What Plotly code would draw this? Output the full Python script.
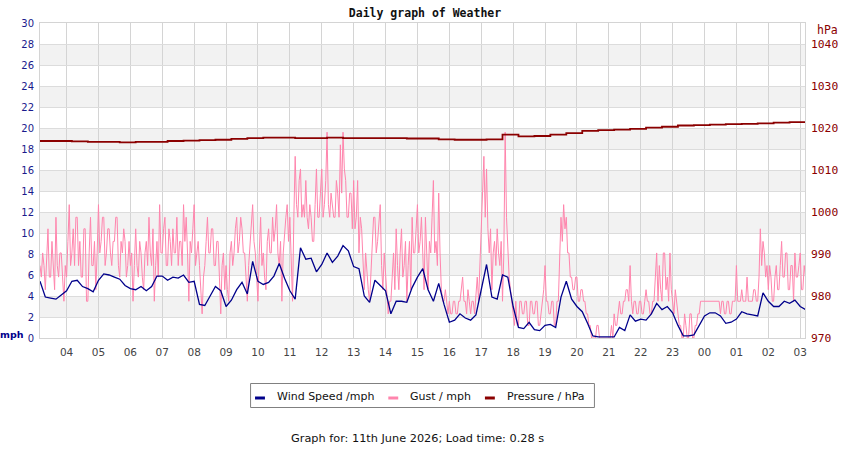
import pandas as pd
import plotly.graph_objects as go

# ---------------- data ----------------
start = "2026-06-10 03:10"

# wind speed (mph), 10-minute readings from 03:10
wind_speed = [
    5.4, 3.9, 3.8, 3.7, 4.1,                 # 03
    4.5, 5.4, 5.5, 4.9, 4.7, 4.4,            # 04
    5.5, 6.1, 6.0, 5.8, 5.6, 5.0,            # 05
    4.7, 4.6, 4.9, 4.5, 4.9, 5.9,            # 06
    5.9, 5.5, 5.8, 5.7, 6.0, 5.3,            # 07
    5.4, 3.2, 3.1, 4.0, 4.9, 4.5,            # 08
    3.0, 3.6, 4.6, 5.3, 4.2, 7.3,            # 09
    5.4, 5.1, 5.3, 5.9, 7.1, 5.7,            # 10
    4.5, 3.7, 8.6, 7.5, 7.6, 6.3,            # 11
    7.0, 8.1, 7.2, 7.8, 8.8, 8.3,            # 12
    6.8, 6.6, 4.0, 3.4, 5.5, 5.0,            # 13
    4.5, 2.3, 3.5, 3.5, 3.4, 4.8,            # 14
    5.8, 6.6, 4.6, 3.5, 5.2, 3.2,            # 15
    1.5, 1.7, 2.3, 1.9, 1.7, 2.2,            # 16
    4.5, 7.0, 3.9, 3.7, 6.0, 5.8,            # 17
    3.0, 1.0, 0.9, 1.5, 0.8, 0.7,            # 18
    1.2, 1.3, 1.0, 3.9, 5.4, 3.7,            # 19
    3.0, 2.5, 1.4, 0.2, 0.1, 0.1,            # 20
    0.1, 0.1, 1.0, 0.7, 2.2, 1.6,            # 21
    1.8, 1.7, 2.3, 3.3, 2.7, 3.0,            # 22
    2.4, 1.2, 0.2, 0.2, 0.3, 1.2,            # 23
    2.1, 2.4, 2.4, 2.1, 1.4, 1.5,            # 00
    1.8, 2.5, 2.3, 2.2, 2.1, 4.3,            # 01
    3.5, 3.0, 3.0, 3.5, 3.3, 3.6,            # 02
    3.0, 2.7,                                # 03
]

# gust (mph), 2.5-minute readings from 03:10
gust = [
    # 03 (03:10 - 03:57:30)
    6.9, 5.8, 8.1, 6.9, 4.6, 8.1, 10.4, 5.8, 5.8, 9.2,
    6.9, 4.6, 11.5, 6.9, 5.8, 8.1, 8.1, 5.8, 3.5, 6.9,
    # 04
    5.8, 9.2, 12.7, 6.9, 8.1, 10.4, 6.9, 11.5, 11.5, 6.9, 9.2, 5.8,
    5.8, 10.4, 10.4, 3.5, 3.5, 8.1, 11.5, 6.9, 6.9, 9.2, 4.6, 8.1,
    # 05
    12.7, 8.1, 9.2, 11.5, 11.5, 6.9, 8.1, 10.4, 10.4, 8.1, 6.9, 9.2,
    9.2, 11.5, 11.5, 6.9, 5.8, 9.2, 8.1, 10.4, 9.2, 5.8, 6.9, 9.2,
    # 06
    6.9, 8.1, 3.5, 6.9, 10.4, 6.9, 5.8, 9.2, 8.1, 5.8, 4.6, 8.1,
    9.2, 6.9, 11.5, 8.1, 6.9, 10.4, 3.5, 6.9, 9.2, 5.8, 12.7, 8.1,
    # 07
    8.1, 10.4, 11.5, 6.9, 6.9, 10.4, 9.2, 6.9, 10.4, 8.1, 8.1, 11.5,
    6.9, 9.2, 9.2, 6.9, 12.7, 9.2, 11.5, 8.1, 3.5, 9.2, 8.1, 10.4,
    # 08
    12.7, 6.9, 8.1, 9.2, 6.9, 4.6, 2.3, 5.8, 6.9, 9.2, 11.5, 8.1,
    8.1, 10.4, 10.4, 6.9, 6.9, 9.2, 9.2, 5.8, 2.3, 6.9, 8.1, 4.6,
    # 09
    6.9, 4.6, 3.5, 8.1, 9.2, 6.9, 8.1, 10.4, 11.5, 8.1, 9.2, 11.5,
    10.4, 8.1, 8.1, 5.8, 3.5, 6.9, 9.2, 11.5, 12.7, 9.2, 8.1, 5.8,
    # 10
    3.5, 8.1, 11.5, 6.9, 8.1, 5.8, 4.6, 9.2, 10.4, 8.1, 8.1, 11.5,
    9.2, 10.4, 12.7, 8.1, 6.9, 9.2, 3.5, 8.1, 10.4, 11.5, 12.7, 9.2,
    # 11
    11.5, 6.9, 3.5, 11.5, 17.3, 12.7, 11.5, 15.0, 16.1, 11.5, 12.7, 11.5,
    15.0, 11.5, 10.4, 12.7, 11.5, 9.2, 9.2, 12.7, 16.1, 11.5, 11.5, 13.8,
    # 12
    16.1, 11.5, 12.7, 15.0, 19.6, 12.7, 11.5, 13.8, 12.7, 11.5, 11.5, 15.0,
    13.8, 11.5, 18.4, 13.8, 19.6, 16.1, 15.0, 11.5, 11.5, 13.8, 13.8, 10.4,
    # 13
    15.0, 10.4, 11.5, 15.0, 8.1, 11.5, 10.4, 6.9, 4.6, 8.1, 5.8, 4.6,
    3.5, 5.8, 8.1, 11.5, 11.5, 8.1, 9.2, 11.5, 12.7, 6.9, 4.6, 8.1,
    # 14
    5.8, 4.6, 2.3, 3.5, 3.5, 5.8, 8.1, 4.6, 10.4, 6.9, 4.6, 8.1,
    10.4, 5.8, 6.9, 9.2, 3.5, 6.9, 9.2, 4.6, 11.5, 8.1, 8.1, 10.4,
    # 15
    12.7, 8.1, 9.2, 11.5, 6.9, 4.6, 11.5, 8.1, 4.6, 9.2, 8.1, 11.5,
    15.0, 8.1, 9.2, 6.9, 13.8, 8.1, 4.6, 3.5, 3.5, 4.6, 3.5, 2.3,
    # 16
    3.5, 2.3, 2.3, 3.5, 3.5, 2.3, 2.3, 3.5, 3.5, 4.6, 5.8, 3.5,
    3.5, 2.3, 4.6, 3.5, 2.3, 3.5, 3.5, 2.3, 4.6, 5.8, 3.5, 6.9,
    # 17
    9.2, 13.8, 17.3, 11.5, 16.1, 10.4, 8.1, 10.4, 4.6, 8.1, 9.2, 6.9,
    10.4, 8.1, 6.9, 9.2, 3.5, 8.1, 19.6, 11.5, 8.1, 5.8, 4.6, 3.5,
    # 18
    2.3, 1.2, 3.5, 1.2, 1.2, 3.5, 3.5, 2.3, 2.3, 3.5, 3.5, 1.2,
    1.2, 3.5, 3.5, 2.3, 2.3, 3.5, 3.5, 1.2, 1.2, 2.3, 3.5, 4.6,
    # 19
    6.9, 3.5, 3.5, 2.3, 2.3, 3.5, 3.5, 1.2, 1.2, 3.5, 3.5, 8.1,
    11.5, 9.2, 12.7, 10.4, 11.5, 8.1, 8.1, 5.8, 5.8, 4.6, 4.6, 5.8,
    # 20
    5.8, 3.5, 3.5, 4.6, 4.6, 3.5, 3.5, 2.3, 2.3, 1.2, 1.2, 0.0,
    0.0, 0.0, 0.0, 1.2, 1.2, 0.0, 0.0, 0.0, 0.0, 0.0, 0.0, 0.0,
    # 21
    0.0, 0.0, 1.2, 0.0, 2.3, 1.2, 1.2, 2.3, 3.5, 2.3, 2.3, 3.5,
    3.5, 4.6, 4.6, 3.5, 6.9, 3.5, 2.3, 3.5, 3.5, 2.3, 2.3, 3.5,
    # 22
    3.5, 2.3, 2.3, 3.5, 4.6, 3.5, 3.5, 2.3, 2.3, 3.5, 3.5, 5.8,
    8.1, 3.5, 6.9, 4.6, 3.5, 8.1, 8.1, 4.6, 5.8, 3.5, 8.1, 4.6,
    # 23
    3.5, 2.3, 4.6, 3.5, 2.3, 1.2, 1.2, 0.0, 0.0, 2.3, 1.2, 0.0,
    0.0, 2.3, 2.3, 0.0, 0.0, 1.2, 1.2, 2.3, 2.3, 3.5, 3.5, 3.5,
    # 00
    3.5, 3.5, 3.5, 3.5, 3.5, 3.5, 3.5, 3.5, 3.5, 3.5, 3.5, 3.5,
    2.3, 3.5, 3.5, 2.3, 2.3, 3.5, 3.5, 2.3, 2.3, 3.5, 3.5, 3.5,
    # 01
    6.9, 3.5, 3.5, 3.5, 4.6, 3.5, 3.5, 3.5, 5.8, 3.5, 3.5, 3.5,
    3.5, 4.6, 4.6, 3.5, 3.5, 5.8, 10.4, 6.9, 9.2, 8.1, 5.8, 6.9,
    # 02
    4.6, 6.9, 5.8, 3.5, 3.5, 5.8, 6.9, 4.6, 4.6, 6.9, 9.2, 5.8,
    5.8, 8.1, 8.1, 4.6, 4.6, 6.9, 6.9, 3.5, 8.1, 5.8, 5.8, 6.9,
    # 03
    8.1, 4.6, 4.6, 6.9, 5.8,
]

# pressure (hPa), 30-minute readings from 03:10
pressure = [
    1016.9, 1016.9, 1016.8, 1016.7, 1016.7, 1016.6, 1016.7, 1016.7,
    1016.9, 1017.0, 1017.1, 1017.2, 1017.4, 1017.6, 1017.7, 1017.7,
    1017.6, 1017.6, 1017.7, 1017.6, 1017.6, 1017.6, 1017.6, 1017.5,
    1017.5, 1017.3, 1017.2, 1017.2, 1017.3, 1018.4, 1018.0, 1018.1,
    1018.4, 1018.8, 1019.3, 1019.5, 1019.6, 1019.8, 1020.1, 1020.3,
    1020.6, 1020.7, 1020.8, 1020.9, 1021.0, 1021.1, 1021.3, 1021.4,
    1021.5,
]

series_names = ["Wind Speed /mph", "Gust / mph", "Pressure / hPa"]
mph_ticks = list(range(0, 31, 2))
hpa_ticks = [970, 980, 990, 1000, 1010, 1020, 1030, 1040]

t_wind = pd.date_range(start, periods=len(wind_speed), freq="10min")
t_gust = pd.date_range(start, periods=len(gust), freq="150s")
t_pres = pd.date_range(start, periods=len(pressure), freq="30min")

# ---------------- figure ----------------
NAVY = "#00008b"
PINK = "#ff85ad"
DARKRED = "#8b0000"
GRID = "#d4d4d4"
colors = [NAVY, PINK, DARKRED]

fig = go.Figure()
fig.add_trace(go.Scatter(x=t_gust, y=gust, mode="lines", name=series_names[1],
                         line=dict(color=PINK, width=1), showlegend=False))
fig.add_trace(go.Scatter(x=t_wind, y=wind_speed, mode="lines", name=series_names[0],
                         line=dict(color=NAVY, width=1.3), showlegend=False))
fig.add_trace(go.Scatter(x=t_pres, y=pressure, mode="lines", name=series_names[2],
                         line=dict(color=DARKRED, width=1.8, shape="hv"),
                         yaxis="y2", showlegend=False))

# pixel -> paper helpers (plot area: x 40..812, y 23..338)
def px(x):
    return (x - 40) / 772


def py(y):
    return (338 - y) / 315


# alternating background bands
shapes = []
for i in range(1, len(mph_ticks) - 1, 2):
    shapes.append(dict(type="rect", xref="paper", yref="y", x0=0, x1=1,
                       y0=mph_ticks[i], y1=mph_ticks[i + 1],
                       fillcolor="#f2f2f2", line=dict(width=0), layer="below"))

# legend box drawn below the plot
shapes.append(dict(type="rect", xref="paper", yref="paper",
                   x0=px(252.5), x1=px(599.5), y0=py(407.5), y1=py(383.5),
                   line=dict(color="#808080", width=1), fillcolor="white"))
swatch_x = [257, 391.5, 489]
text_x = [277, 411.5, 509.5]
annotations = []
for name, col, sx, tx in zip(series_names, colors, swatch_x, text_x):
    shapes.append(dict(type="line", xref="paper", yref="paper",
                       x0=px(sx), x1=px(sx + 10), y0=py(398), y1=py(398),
                       line=dict(color=col, width=3)))
    annotations.append(dict(text=name, xref="paper", yref="paper", x=px(tx), y=py(396.5),
                            xanchor="left", yanchor="middle", showarrow=False,
                            font=dict(family="DejaVu Sans", size=11, color="#111")))

annotations += [
    dict(text="<b>mph</b>", xref="paper", yref="paper", x=px(12), y=py(334),
         xanchor="center", yanchor="middle", showarrow=False,
         font=dict(family="DejaVu Sans", size=9.5, color=NAVY)),
    dict(text="hPa", xref="paper", yref="paper", x=px(822.5), y=py(29.5),
         xanchor="left", yanchor="middle", showarrow=False,
         font=dict(family="DejaVu Sans Mono", size=11.5, color=DARKRED)),
    dict(text="Graph for: 11th June 2026; Load time: 0.28 s", xref="paper", yref="paper",
         x=px(421), y=py(438), xanchor="center", yanchor="middle",
         showarrow=False, font=dict(family="DejaVu Sans", size=11.3, color="#111")),
]

fig.update_layout(
    width=850, height=450, autosize=False,
    margin=dict(l=40, r=38, t=23, b=112, pad=0),
    paper_bgcolor="white", plot_bgcolor="white",
    shapes=shapes, annotations=annotations,
    font=dict(family="DejaVu Sans", size=11, color="#222"),
    title=dict(text="Daily graph of Weather", x=0.5, xanchor="center",
               y=1 - 13 / 450, yanchor="middle", xref="container", yref="container",
               font=dict(family="DejaVu Sans Mono", size=11.5, color="#111", weight="bold")),
    xaxis=dict(type="date", range=["2026-06-10 03:10", "2026-06-11 03:09"],
               tickformat="%H", dtick=3600000, tick0="2026-06-10 00:00",
               showgrid=True, gridcolor=GRID, gridwidth=1,
               showline=True, linecolor=GRID, mirror=True,
               ticks="", tickfont=dict(family="DejaVu Sans", size=10.5, color="#444"),
               ticklabelstandoff=4, zeroline=False, fixedrange=True),
    yaxis=dict(range=[0, 30], tickvals=mph_ticks, showgrid=True, gridcolor="#dcdcdc",
               showline=True, linecolor=GRID, mirror=True, zeroline=False,
               ticks="", ticklabelstandoff=3,
               tickfont=dict(family="DejaVu Sans", size=10, color="#1a1a8c")),
    yaxis2=dict(range=[970, 1045], tickvals=hpa_ticks, overlaying="y", side="right",
                showgrid=False, zeroline=False, showline=False, ticks="",
                ticklabelstandoff=5,
                tickfont=dict(family="DejaVu Sans Mono", size=11.3, color=DARKRED)),
    showlegend=False,
)

fig.write_html("out.html")
